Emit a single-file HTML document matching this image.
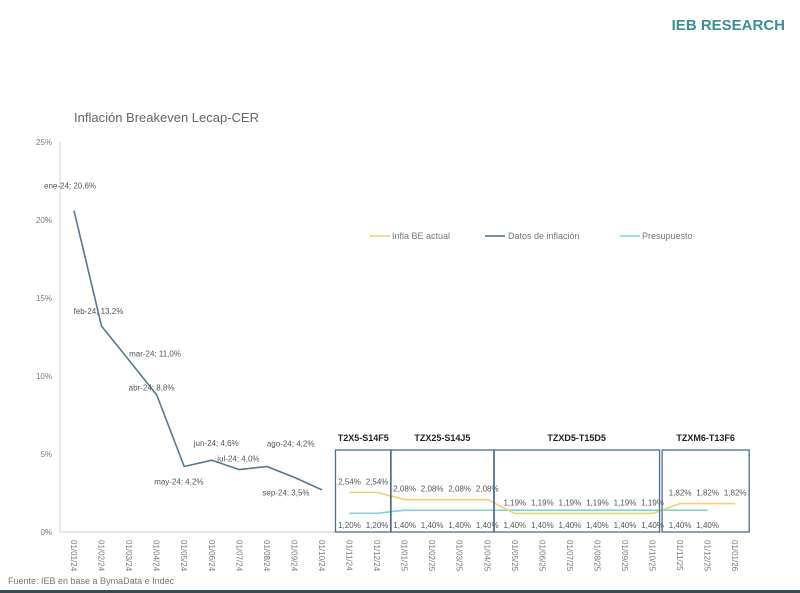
<!DOCTYPE html>
<html><head><meta charset="utf-8"><style>
body{margin:0;background:#fff;width:800px;height:593px;overflow:hidden;font-family:"Liberation Sans",sans-serif}
svg{position:absolute;left:0;top:0}
</style></head><body>
<svg id="c" width="800" height="593">
<text x="785" y="30" text-anchor="end" font-size="15" font-weight="bold" fill="#3a8f96">IEB RESEARCH</text>
<text x="74" y="122" font-size="13" fill="#666">Inflación Breakeven Lecap-CER</text>
<text x="8" y="584" font-size="9" fill="#777">Fuente: IEB en base a BymaData e Indec</text>
<rect x="0" y="590" width="800" height="3" fill="#3c4a52"/>
<g>
<line x1="370" y1="236" x2="390" y2="236" stroke="#f0d070" stroke-width="1.5"/><text x="392" y="239" font-size="9" fill="#777">Infla BE actual</text>
<line x1="485" y1="236" x2="505" y2="236" stroke="#4a6a80" stroke-width="1.5"/><text x="508" y="239" font-size="9" fill="#777">Datos de inflación</text>
<line x1="620" y1="236" x2="640" y2="236" stroke="#7fd6d0" stroke-width="1.5"/><text x="642" y="239" font-size="9" fill="#777">Presupuesto</text>
</g>
</svg>
<script>
const dates=["01/01/24","01/02/24","01/03/24","01/04/24","01/05/24","01/06/24","01/07/24","01/08/24","01/09/24","01/10/24","01/11/24","01/12/24","01/01/25","01/02/25","01/03/25","01/04/25","01/05/25","01/06/25","01/07/25","01/08/25","01/09/25","01/10/25","01/11/25","01/12/25","01/01/26"];
const inflacion=[20.6,13.2,11.0,8.8,4.2,4.6,4.0,4.2,3.5,2.7];
const inflLabels=["ene-24; 20,6%","feb-24; 13,2%","mar-24; 11,0%","abr-24; 8,8%","may-24; 4,2%","jun-24; 4,6%","jul-24; 4,0%","ago-24; 4,2%","sep-24; 3,5%",""];
const breakeven=[2.54,2.54,2.08,2.08,2.08,2.08,1.19,1.19,1.19,1.19,1.19,1.19,1.82,1.82,1.82];
const beLabels=["2,54%","2,54%","2,08%","2,08%","2,08%","2,08%","1,19%","1,19%","1,19%","1,19%","1,19%","1,19%","1,82%","1,82%","1,82%"];
const presupuesto=[1.20,1.20,1.40,1.40,1.40,1.40,1.40,1.40,1.40,1.40,1.40,1.40,1.40,1.40];
const preLabels=["1,20%","1,20%","1,40%","1,40%","1,40%","1,40%","1,40%","1,40%","1,40%","1,40%","1,40%","1,40%","1,40%","1,40%"];
const yTicks=[0,5,10,15,20,25];
const boxes=[["T2X5-S14F5",10,11],["TZX25-S14J5",12,15],["TZXD5-T15D5",16,21],["TZXM6-T13F6",22,24]];
const NS="http://www.w3.org/2000/svg",svg=document.getElementById('c');
const X=i=>74+i*27.55, Y=v=>532-v*15.6;
function el(t,a,txt){const e=document.createElementNS(NS,t);for(const k in a)e.setAttribute(k,a[k]);if(txt!==undefined)e.textContent=txt;svg.appendChild(e);return e;}
let e=el('line',{x1:60,y1:142,x2:60,y2:532,stroke:'#d0d0d0'});

e=el('line',{x1:60,y1:532,x2:750,y2:532,stroke:'#d0d0d0'});

yTicks.forEach(v=>{e=el('text',{x:52,y:Y(v)+3,'font-size':8,fill:'#777','text-anchor':'end'},v+'%');
});
dates.forEach((d,i)=>{e=el('text',{transform:`translate(${X(i)-3},540) rotate(90)`,'font-size':8,fill:'#777'},d);
});
function path(vals,off,col,name){const d=vals.map((v,i)=>(i?'L':'M')+X(i+off)+' '+Y(v)).join(' ');
e=el('path',{d:d,fill:'none',stroke:col,'stroke-width':1.6});}
path(inflacion,0,'#557a8e','inflation-line');
path(presupuesto,10,'#7fd6d0','budget-line');
path(breakeven,10,'#f0d070','breakeven-line');
const inflOff=[[-30,-22],[-28,-12],[0,-4],[-28,-4],[-30,18],[-18,-14],[-22,-8],[0,-20],[-32,18]];
inflLabels.forEach((l,i)=>{if(!l)return;e=el('text',{x:X(i)+inflOff[i][0],y:Y(inflacion[i])+inflOff[i][1],'font-size':8,fill:'#555'},l);
});
beLabels.forEach((l,i)=>{e=el('text',{x:X(i+10),y:Y(breakeven[i])-8,'font-size':8,fill:'#555','text-anchor':'middle'},l);
});
preLabels.forEach((l,i)=>{e=el('text',{x:X(i+10),y:528,'font-size':8,fill:'#555','text-anchor':'middle'},l);
});
const padL=[14,14,21,18],padR=[14,7,7,14];
boxes.forEach((b,k)=>{const x1=X(b[1])-padL[k],x2=X(b[2])+padR[k];
e=el('rect',{x:x1,y:450,width:x2-x1,height:82,fill:'none',stroke:'#4a6f8f','stroke-width':1.3});

e=el('text',{x:(x1+x2)/2,y:441,'font-size':9,'font-weight':'bold',fill:'#222','text-anchor':'middle'},b[0]);
});
</script>
</body></html>
